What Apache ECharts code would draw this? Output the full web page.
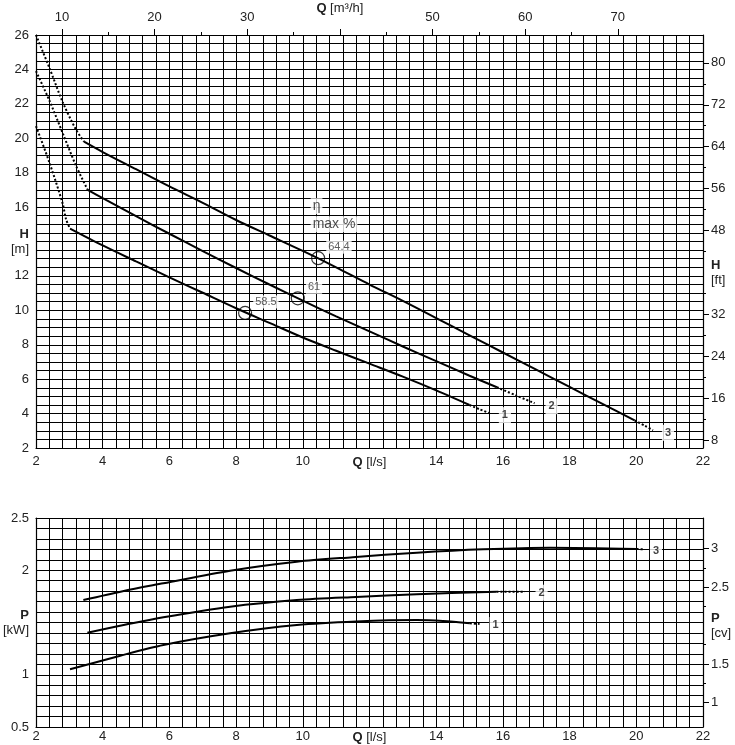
<!DOCTYPE html>
<html>
<head>
<meta charset="utf-8">
<script src="https://cdn.jsdelivr.net/npm/echarts@6.0.0/dist/echarts.min.js"></script>
<style>
html,body{margin:0;padding:0;background:#fff;}
#c{width:735px;height:745px;}
</style>
</head>
<body>
<div id="c"></div>
<script>
// ---------- DATA ----------
// Q in l/s, H in m
const h1DotStart = [[2,20.7],[2.4,18.6],[2.8,16.2],[2.9,15.3],[3.02,14.75]];
const h1Solid = [[3.02,14.75],[4,13.77],[5,12.84],[6,11.92],[7,11.02],[8,10.12],[9,9.27],[10,8.42],[11,7.65],[12,6.9],[13,6.15],[14,5.35],[15,4.5]];
const h1DotEnd = [[15,4.5],[15.3,4.25],[15.6,4.02]];

const h2DotStart = [[2,23.9],[2.4,22.2],[2.8,20.3],[3.2,18.4],[3.55,17.0]];
const h2Solid = [[3.55,17.0],[4,16.52],[5,15.47],[6,14.45],[7,13.44],[8,12.46],[9,11.5],[10,10.56],[11,9.65],[12,8.78],[13,7.9],[14,7.05],[15,6.2],[15.82,5.53]];
const h2DotEnd = [[15.82,5.53],[16.4,5.05],[16.95,4.6]];

const h3DotStart = [[2,26],[2.4,24.1],[2.8,22.1],[3.2,20.5],[3.44,19.8]];
const h3Solid = [[3.44,19.8],[4,19.2],[5,18.2],[6,17.2],[7,16.25],[8,15.25],[9,14.35],[10,13.45],[11,12.5],[12,11.5],[13,10.55],[14,9.55],[15,8.55],[16,7.55],[17,6.55],[18,5.55],[19,4.55],[19.95,3.6]];
const h3DotEnd = [[19.95,3.6],[20.25,3.3],[20.5,3.03]];

const effPoints = [[8.27,9.85,'58.5'],[9.85,10.7,'61'],[10.46,13.03,'64.4']];
const etaNote = [[10.22,15.53,'η|max %']];
const hTags = [[16.06,3.91,'1'],[17.46,4.43,'2'],[20.95,2.88,'3']];

// Q in l/s, P in kW
const p1Solid = [[3.02,1.052],[4.5,1.18],[5.82,1.285],[7.82,1.397],[9.82,1.476],[11.6,1.51],[13.42,1.524],[14.2,1.515],[15.01,1.492]];
const p1DotEnd = [[15.01,1.492],[15.3,1.486]];
const p2Solid = [[3.54,1.402],[4.7,1.48],[5.82,1.55],[7.82,1.651],[9.82,1.715],[11.6,1.745],[13.42,1.77],[15.81,1.795]];
const p2DotEnd = [[15.81,1.795],[16.66,1.795]];
const p3Solid = [[3.42,1.715],[4.6,1.8],[5.82,1.875],[7.82,1.996],[9.82,2.082],[11.5,2.125],[13.42,2.168],[15.41,2.2],[17.41,2.216],[20.01,2.203]];
const p3DotEnd = [[20.01,2.203],[20.25,2.2]];
const pTags = [[15.78,1.476,'1'],[17.16,1.785,'2'],[20.59,2.187,'3']];

// tick labels
const qTicks = [2,4,6,8,10,12,14,16,18,20,22];
const m3hMajor = [10,20,30,40,50,60,70];
const m3hMinor = [15,25,35,45,55,65];
const hMTicks = [2,4,6,8,10,12,14,16,18,20,22,24,26];
const ftLabels = [8,16,24,32,40,48,56,64,72,80];
const ftMajorTicks = [8,16,24,32,48,56,64,72,80];
const ftMinorTicks = [12,20,28,36,44,52,60,68,76];
const kwTicks = [0.5,1,1.5,2,2.5];
const cvLabels = [1,1.5,2,2.5,3];
const cvMajorTicks = [1,1.5,2.5,3];
const cvMinorTicks = [1.25,1.75,2.25,2.75];

// ---------- CONVERSIONS ----------
const M2FT = 3.28084;
const KW2CV = 1.35962;
const LS2M3H = 3.6;

// ---------- STYLE ----------
const FONT = "'Liberation Sans', Arial, Helvetica, sans-serif";
const TXT = '#222';
const LINE_W = 2;
const DOT = [2, 2];
const rich = { b: { fontWeight: 'bold', fontSize: 13, fontFamily: FONT, color: TXT, lineHeight: 15 } };

function near(v, t) { return Math.abs(v - t) < 1e-6; }
function isIn(list, v) { return list.some(t => near(t, v)); }

const chart = echarts.init(document.getElementById('c'), null, { renderer: 'canvas' });

const gridLine = { show: true, lineStyle: { color: '#000', width: 1 } };
const axisLine = { show: true, lineStyle: { color: '#000', width: 1.2 } };
const baseLabel = { fontFamily: FONT, fontSize: 13, color: TXT, rich: rich };

function lineSeries(data, xi, yi, dotted) {
  return {
    type: 'line', xAxisIndex: xi, yAxisIndex: yi, data: data,
    showSymbol: false, symbol: 'none', smooth: 0.3, silent: true,
    lineStyle: { color: '#000', width: LINE_W, type: dotted ? DOT : 'solid', cap: 'butt' },
    z: 3
  };
}

function tagSeries(data, xi, yi) {
  return {
    type: 'scatter', xAxisIndex: xi, yAxisIndex: yi, data: data,
    symbolSize: 1, itemStyle: { color: 'rgba(0,0,0,0)' }, silent: true, z: 5,
    label: {
      show: true, position: 'inside', formatter: p => p.data[2],
      fontFamily: FONT, fontWeight: 'bold', fontSize: 11, color: '#111',
      backgroundColor: '#fff', padding: [3, 3, 2, 3]
    }
  };
}

const option = {
  animation: false,
  backgroundColor: '#fff',
  grid: [
    { left: 36, right: 32, top: 35, height: 413 },
    { left: 36, right: 32, top: 518, height: 209 }
  ],
  xAxis: [
    { // 0: top chart bottom Q l/s
      type: 'value', gridIndex: 0, position: 'bottom', min: 2, max: 22, interval: 0.4,
      axisLine: axisLine, axisTick: { show: false }, splitLine: gridLine,
      axisLabel: Object.assign({}, baseLabel, { margin: 7,
        formatter: v => { const r = Math.round(v); if (!near(v, r) || !isIn(qTicks, r)) return ''; return r === 12 ? '{b|Q} [l/s]' : String(r); } })
    },
    { // 1: top chart top m3/h major
      type: 'value', gridIndex: 0, position: 'top', min: 2, max: 22,
      axisLine: axisLine, splitLine: { show: false },
      axisTick: { show: true, length: 6, lineStyle: { color: '#000', width: 1 }, customValues: m3hMajor.map(v => v / LS2M3H) },
      axisLabel: Object.assign({}, baseLabel, { margin: 11, customValues: m3hMajor.filter(v => v !== 40).map(v => v / LS2M3H),
        formatter: v => String(Math.round(v * LS2M3H)) })
    },
    { // 2: top chart top m3/h minor + title
      type: 'value', gridIndex: 0, position: 'top', min: 2, max: 22,
      axisLine: { show: false }, splitLine: { show: false },
      axisTick: { show: true, length: 3, lineStyle: { color: '#000', width: 1 }, customValues: m3hMinor.map(v => v / LS2M3H) },
      axisLabel: Object.assign({}, baseLabel, { margin: 19, customValues: [40 / LS2M3H],
        formatter: () => '{b|Q} [m³/h]' })
    },
    { // 3: bottom chart Q l/s
      type: 'value', gridIndex: 1, position: 'bottom', min: 2, max: 22, interval: 0.4,
      axisLine: axisLine, axisTick: { show: false }, splitLine: gridLine,
      axisLabel: Object.assign({}, baseLabel, { margin: 3,
        formatter: v => { const r = Math.round(v); if (!near(v, r) || !isIn(qTicks, r)) return ''; return r === 12 ? '{b|Q} [l/s]' : String(r); } })
    },
    { // 4: bottom chart top border
      type: 'value', gridIndex: 1, position: 'top', min: 2, max: 22,
      axisLine: axisLine, axisTick: { show: false }, axisLabel: { show: false }, splitLine: { show: false }
    }
  ],
  yAxis: [
    { // 0: H m
      type: 'value', gridIndex: 0, position: 'left', min: 2, max: 26, interval: 0.5,
      axisLine: axisLine, axisTick: { show: false }, splitLine: gridLine,
      axisLabel: Object.assign({}, baseLabel, { margin: 7, lineHeight: 15,
        formatter: v => { const r = Math.round(v); if (!near(v, r) || !isIn(hMTicks, r)) return ''; return r === 14 ? '{b|H}\n[m]' : String(r); } })
    },
    { // 1: H ft major
      type: 'value', gridIndex: 0, position: 'right', min: 2, max: 26,
      axisLine: axisLine, splitLine: { show: false },
      axisTick: { show: true, length: 6, lineStyle: { color: '#000', width: 1 }, customValues: ftMajorTicks.map(f => f / M2FT) },
      axisLabel: Object.assign({}, baseLabel, { margin: 8, lineHeight: 15, customValues: ftLabels.map(f => f / M2FT),
        formatter: v => { const f = Math.round(v * M2FT); return f === 40 ? '{b|H}\n[ft]' : String(f); } })
    },
    { // 2: H ft minor
      type: 'value', gridIndex: 0, position: 'right', min: 2, max: 26,
      axisLine: { show: false }, splitLine: { show: false }, axisLabel: { show: false },
      axisTick: { show: true, length: 3, lineStyle: { color: '#000', width: 1 }, customValues: ftMinorTicks.map(f => f / M2FT) }
    },
    { // 3: P kW
      type: 'value', gridIndex: 1, position: 'left', min: 0.5, max: 2.5, interval: 0.1,
      axisLine: axisLine, axisTick: { show: false }, splitLine: gridLine,
      axisLabel: Object.assign({}, baseLabel, { margin: 7, lineHeight: 15,
        formatter: v => { const r = Math.round(v * 2) / 2; if (!near(v, r) || !isIn(kwTicks, r)) return ''; return near(r, 1.5) ? '{b|P}\n[kW]' : String(r); } })
    },
    { // 4: P cv major
      type: 'value', gridIndex: 1, position: 'right', min: 0.5, max: 2.5,
      axisLine: axisLine, splitLine: { show: false },
      axisTick: { show: true, length: 6, lineStyle: { color: '#000', width: 1 }, customValues: cvMajorTicks.map(c => c / KW2CV) },
      axisLabel: Object.assign({}, baseLabel, { margin: 8, lineHeight: 15, customValues: cvLabels.map(c => c / KW2CV),
        formatter: v => { const c = Math.round(v * KW2CV * 100) / 100; return near(c, 2) ? '{b|P}\n[cv]' : String(c); } })
    },
    { // 5: P cv minor
      type: 'value', gridIndex: 1, position: 'right', min: 0.5, max: 2.5,
      axisLine: { show: false }, splitLine: { show: false }, axisLabel: { show: false },
      axisTick: { show: true, length: 3, lineStyle: { color: '#000', width: 1 }, customValues: cvMinorTicks.map(c => c / KW2CV) }
    }
  ],
  series: [
    lineSeries(h1DotStart, 0, 0, true), lineSeries(h1Solid, 0, 0, false), lineSeries(h1DotEnd, 0, 0, true),
    lineSeries(h2DotStart, 0, 0, true), lineSeries(h2Solid, 0, 0, false), lineSeries(h2DotEnd, 0, 0, true),
    lineSeries(h3DotStart, 0, 0, true), lineSeries(h3Solid, 0, 0, false), lineSeries(h3DotEnd, 0, 0, true),
    {
      type: 'scatter', xAxisIndex: 0, yAxisIndex: 0, data: effPoints, silent: true, z: 4,
      symbol: 'circle', symbolSize: 13,
      itemStyle: { color: 'rgba(0,0,0,0)', borderColor: '#000', borderWidth: 1.2 },
      label: {
        show: true, position: 'right', distance: 1, offset: [0, -11], formatter: p => p.data[2],
        fontFamily: FONT, fontSize: 11, color: '#333', backgroundColor: '#fff', padding: [1, 2]
      }
    },
    {
      type: 'scatter', xAxisIndex: 0, yAxisIndex: 0, data: etaNote, silent: true, z: 4,
      symbolSize: 1, itemStyle: { color: 'rgba(0,0,0,0)' },
      label: {
        show: true, position: 'right', distance: 0, align: 'left',
        formatter: p => p.data[2].split('|').map(s => '{a|' + s + '}').join('\n'),
        rich: { a: { fontFamily: FONT, fontSize: 14, color: '#222', backgroundColor: '#fff', padding: [1, 2], lineHeight: 18, align: 'left' } }
      }
    },
    tagSeries(hTags, 0, 0),
    lineSeries(p1Solid, 3, 3, false), lineSeries(p1DotEnd, 3, 3, true),
    lineSeries(p2Solid, 3, 3, false), lineSeries(p2DotEnd, 3, 3, true),
    lineSeries(p3Solid, 3, 3, false), lineSeries(p3DotEnd, 3, 3, true),
    tagSeries(pTags, 3, 3)
  ]
};
chart.setOption(option);
</script>
</body>
</html>
